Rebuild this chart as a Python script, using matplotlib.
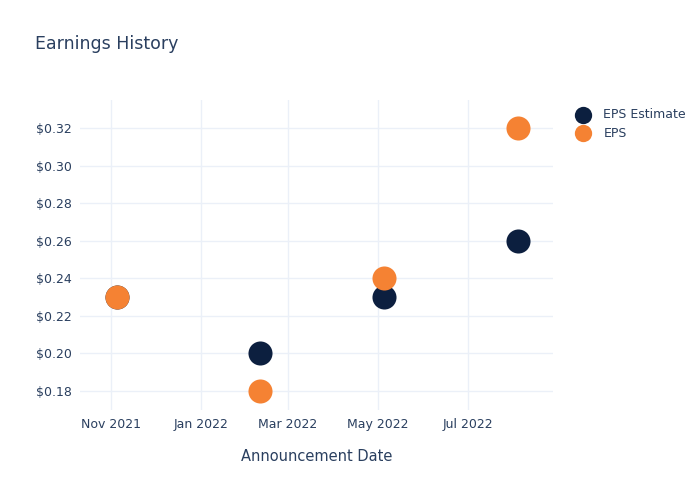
import matplotlib
matplotlib.use("Agg")
import matplotlib.pyplot as plt
import matplotlib.dates as mdates
from matplotlib.ticker import FuncFormatter
import numpy as np

# Data
dates = np.array(["2021-11-05", "2022-02-10", "2022-05-05", "2022-08-04"], dtype="datetime64[D]")
eps_estimate = [0.23, 0.20, 0.23, 0.26]
eps_actual = [0.23, 0.18, 0.24, 0.32]

navy = "#0c1f3f"
orange = "#f58233"
text_col = "#2a3f5f"
grid_col = "#ebf0f8"

fig = plt.figure(figsize=(7, 5), dpi=100)
ax = fig.add_axes([0.1143, 0.18, 0.676, 0.62])

ax.scatter(dates, eps_estimate, s=300, color=navy, label="EPS Estimate", zorder=3, linewidths=0)
ax.scatter(dates, eps_actual, s=300, color=orange, label="EPS", zorder=4, linewidths=0)

ax.set_xlim(np.datetime64("2021-10-11"), np.datetime64("2022-08-28"))
ax.set_ylim(0.1699, 0.3349)
ax.set_yticks([0.18, 0.20, 0.22, 0.24, 0.26, 0.28, 0.30, 0.32])
ax.yaxis.set_major_formatter(FuncFormatter(lambda v, p: f"${v:.2f}"))
ax.set_xticks([np.datetime64("2021-11-01"), np.datetime64("2022-01-01"), np.datetime64("2022-03-01"),
               np.datetime64("2022-05-01"), np.datetime64("2022-07-01")])
ax.xaxis.set_major_formatter(mdates.DateFormatter("%b %Y"))

ax.grid(True, color=grid_col, linewidth=1)
ax.set_axisbelow(True)
for s in ax.spines.values():
    s.set_visible(False)
ax.tick_params(length=0, colors=text_col, labelsize=9, pad=6)

ax.set_xlabel("Announcement Date", color=text_col, fontsize=10.5, labelpad=13)
fig.text(0.05, 0.912, "Earnings History", color=text_col, fontsize=12.5, va="center")

leg = ax.legend(loc="upper left", bbox_to_anchor=(1.027, 0.99), frameon=False,
                fontsize=9, labelcolor=text_col, markerscale=0.72, handletextpad=0.6,
                labelspacing=0.45, borderaxespad=0)

fig.savefig("out.png", dpi=100)
